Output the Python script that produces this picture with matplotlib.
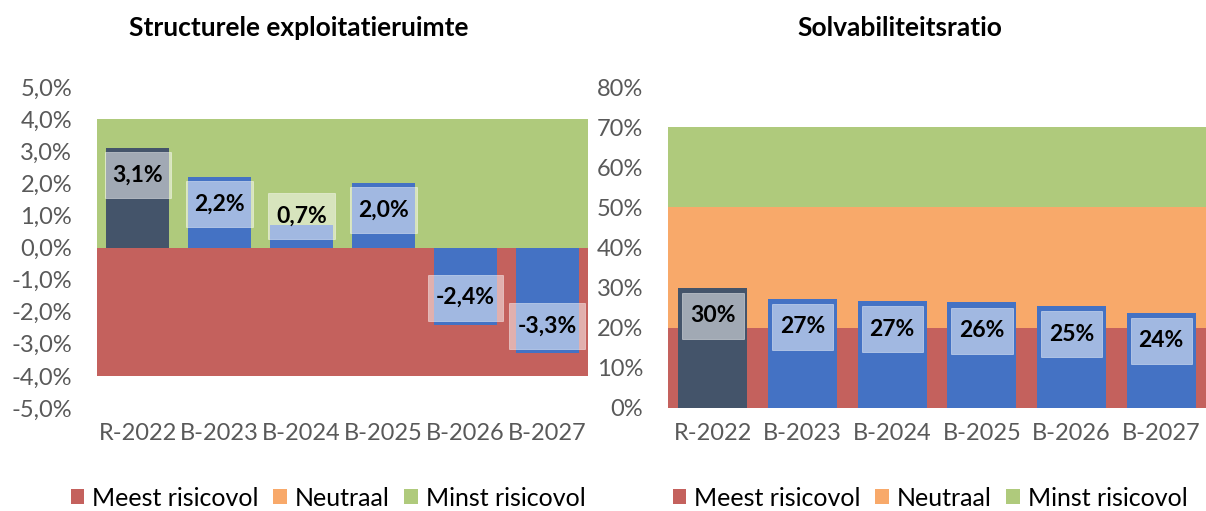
import matplotlib.pyplot as plt
import numpy as np
from matplotlib.patches import Rectangle
from matplotlib.ticker import FuncFormatter

plt.rcParams["font.family"] = ["Lato", "DejaVu Sans"]

years = ["R-2022", "B-2023", "B-2024", "B-2025", "B-2026", "B-2027"]
ruimte = [3.1, 2.2, 0.7, 2.0, -2.4, -3.3]
solvabiliteit = [30.0, 27.2, 26.6, 26.3, 25.4, 23.7]

band_names = ["Meest risicovol", "Neutraal", "Minst risicovol"]
band_colors = ["#C4615D", "#F8A96A", "#AFCA7C"]
# band (bottom, top) per chart
ruimte_bands = [(-4.0, 0.0), (0.0, 0.0), (0.0, 4.0)]
solv_bands = [(0.0, 20.0), (20.0, 50.0), (50.0, 70.0)]

bar_colors = ["#44546A", "#4472C4", "#4472C4", "#4472C4", "#4472C4", "#4472C4"]
tick_grey = "#595959"
LABEL_FS = 16.5

fig = plt.figure(figsize=(12.06, 5.11), dpi=100)
ax1 = fig.add_axes([97 / 1206, 1 - 408 / 511, 491 / 1206, 321 / 511])
ax2 = fig.add_axes([668 / 1206, 1 - 408 / 511, 538 / 1206, 321 / 511])

labels = []


def draw(ax, values, bands, ylim, step, fmt, label_fmt, offset, min_pos):
    n = len(years)
    x = np.arange(n)
    for name, color, (lo, hi) in zip(band_names, band_colors, bands):
        ax.bar((n - 1) / 2, hi - lo, bottom=lo, width=n, color=color, label=name, zorder=1)
    ax.bar(x, values, width=0.77, color=bar_colors, zorder=2)
    for xi, v in zip(x, values):
        yv = v - np.sign(v) * offset
        if v > 0:
            yv = max(yv, min_pos)
        t = ax.text(xi, yv, label_fmt(v), ha="center", va="center", fontsize=LABEL_FS,
                    fontweight="bold", color="black", zorder=4)
        labels.append(t)
    ax.set_xlim(-0.5, n - 0.5)
    ax.set_ylim(*ylim)
    ax.set_yticks(np.arange(ylim[0], ylim[1] + step / 2, step))
    ax.yaxis.set_major_formatter(FuncFormatter(fmt))
    ax.set_xticks(x)
    ax.set_xticklabels(years)
    ax.tick_params(length=0, labelsize=17, colors=tick_grey)
    ax.tick_params(axis="y", pad=18)
    ax.tick_params(axis="x", pad=11)
    for s in ax.spines.values():
        s.set_visible(False)


draw(ax1, ruimte, ruimte_bands, (-5, 5), 1,
     lambda v, p: f"{v:.1f}%".replace(".", ","),
     lambda v: f"{v:.1f}%".replace(".", ","), 0.84, 0.97)
draw(ax2, solvabiliteit, solv_bands, (0, 80), 10,
     lambda v, p: f"{v:.0f}%",
     lambda v: f"{v:.0f}%", 7.0, 0)

fig.text(299 / 1206, 1 - 28 / 511, "Structurele exploitatieruimte", ha="center", va="center",
         fontsize=19, fontweight="bold")
fig.text(900 / 1206, 1 - 28 / 511, "Solvabiliteitsratio", ha="center", va="center",
         fontsize=19, fontweight="bold")

# semi-transparent label boxes sized around the text
fig.canvas.draw()
r = fig.canvas.get_renderer()
inv = fig.transFigure.inverted()
for t in labels:
    bb = t.get_window_extent(r)
    cx, cy = (bb.x0 + bb.x1) / 2, (bb.y0 + bb.y1) / 2
    w, h = bb.width + 16, 46
    (fx0, fy0) = inv.transform((cx - w / 2, cy - h / 2))
    (fx1, fy1) = inv.transform((cx + w / 2, cy + h / 2))
    fig.patches.append(Rectangle((fx0, fy0), fx1 - fx0, fy1 - fy0, transform=fig.transFigure,
                                 facecolor="white", alpha=0.5, edgecolor="white", lw=0.6,
                                 zorder=3))
    t.remove()
    fig.text(*inv.transform((cx, cy)), t.get_text(), ha="center", va="center",
             fontsize=LABEL_FS, fontweight="bold", color="black", zorder=6)

for ax, cx in [(ax1, 328 / 1206), (ax2, 930 / 1206)]:
    h, l = ax.get_legend_handles_labels()
    fig.legend(h, l, loc="center", bbox_to_anchor=(cx, 1 - 498 / 511), ncol=3, frameon=False,
               fontsize=18, handlelength=0.55, handleheight=0.55, handletextpad=0.3,
               columnspacing=0.6)

fig.savefig("out.png", dpi=100)
